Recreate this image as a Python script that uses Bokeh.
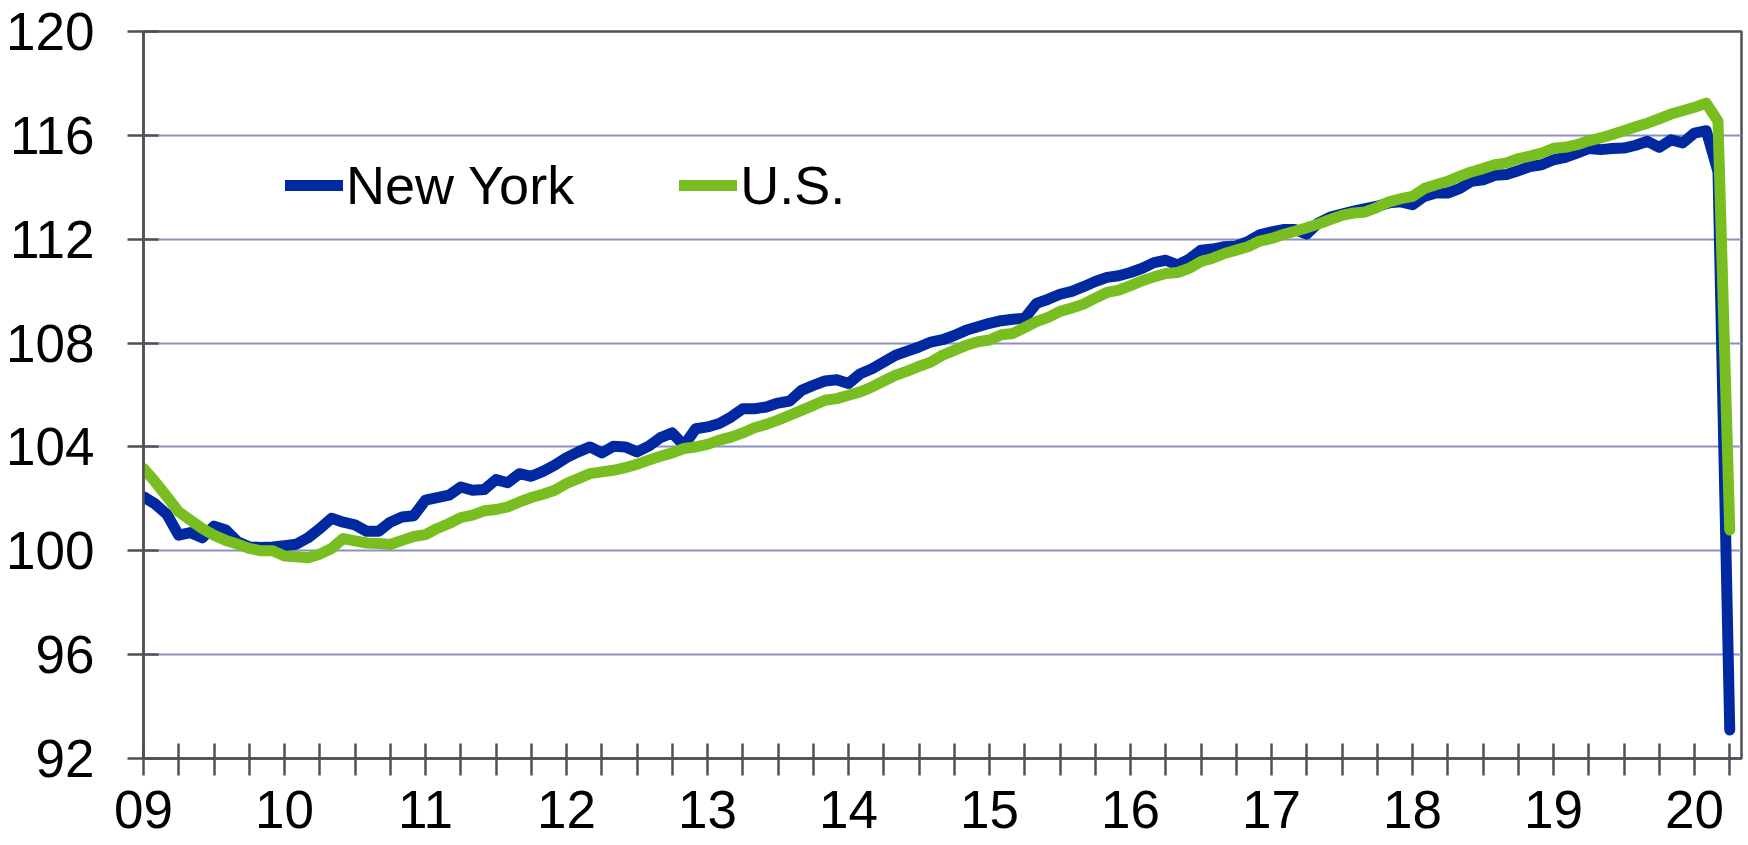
from bokeh.plotting import figure
from bokeh.models import FixedTicker, Range1d, Legend, LegendItem
from bokeh.embed import file_html
from bokeh.resources import INLINE

# Monthly index, Jan 2009 .. Apr 2020
year_labels = ["09", "10", "11", "12", "13", "14", "15", "16", "17", "18", "19", "20"]

new_york = [
    102.08, 101.8, 101.4, 100.6, 100.7, 100.5, 100.95, 100.8, 100.35, 100.15, 100.13, 100.15,
    100.2, 100.25, 100.5, 100.85, 101.25, 101.1, 101.0, 100.75, 100.75, 101.1, 101.3, 101.35,
    101.95, 102.05, 102.14, 102.46, 102.33, 102.36, 102.74, 102.62, 102.97, 102.87, 103.06, 103.3,
    103.59, 103.81, 104.0, 103.77, 104.03, 104.0, 103.81, 104.03, 104.36, 104.54, 104.06, 104.7,
    104.77, 104.9, 105.15, 105.47, 105.47, 105.54, 105.69, 105.77, 106.18, 106.37, 106.54, 106.59,
    106.44, 106.82, 107.01, 107.27, 107.53, 107.69, 107.85, 108.04, 108.13, 108.29, 108.49, 108.63,
    108.76, 108.86, 108.92, 108.96, 109.53, 109.69, 109.88, 109.99, 110.17, 110.37, 110.53, 110.59,
    110.72, 110.88, 111.1, 111.19, 111.01, 111.23, 111.58, 111.62, 111.71, 111.74, 111.91, 112.17,
    112.28, 112.37, 112.37, 112.2, 112.63, 112.85, 112.97, 113.08, 113.18, 113.27, 113.4, 113.44,
    113.33, 113.65, 113.78, 113.78, 113.95, 114.23, 114.29, 114.46, 114.49, 114.64, 114.8, 114.87,
    115.06, 115.15, 115.32, 115.49, 115.45, 115.49, 115.51, 115.62, 115.77, 115.54, 115.83, 115.71,
    116.09, 116.18, 114.6, 93.1,
]

us = [
    103.17, 102.65, 102.08, 101.5, 101.18, 100.86, 100.6, 100.4, 100.26, 100.09, 100.0, 100.0,
    99.8, 99.77, 99.73, 99.87, 100.09, 100.47, 100.38, 100.3, 100.28, 100.24, 100.4, 100.55,
    100.62, 100.86, 101.05, 101.28, 101.37, 101.54, 101.59, 101.69, 101.88, 102.05, 102.18, 102.33,
    102.59, 102.78, 102.97, 103.04, 103.1, 103.2, 103.33, 103.49, 103.64, 103.77, 103.94, 104.0,
    104.1, 104.26, 104.38, 104.54, 104.74, 104.87, 105.03, 105.22, 105.41, 105.6, 105.8, 105.86,
    105.99, 106.12, 106.31, 106.54, 106.76, 106.92, 107.1, 107.27, 107.53, 107.72, 107.91, 108.05,
    108.12, 108.32, 108.37, 108.6, 108.83, 108.99, 109.22, 109.35, 109.5, 109.73, 109.95, 110.04,
    110.21, 110.4, 110.55, 110.68, 110.72, 110.88, 111.14, 111.27, 111.45, 111.58, 111.71, 111.93,
    112.03, 112.18, 112.31, 112.44, 112.59, 112.76, 112.92, 113.01, 113.05, 113.23, 113.44, 113.56,
    113.65, 113.95, 114.1, 114.23, 114.42, 114.59, 114.72, 114.87, 114.94, 115.1, 115.2, 115.32,
    115.5, 115.54, 115.64, 115.79, 115.9, 116.03, 116.18, 116.33, 116.47, 116.64, 116.82, 116.95,
    117.08, 117.24, 116.54, 100.8,
]

y_ticks = [92, 96, 100, 104, 108, 112, 116, 120]

months = list(range(len(new_york)))

AXIS = "#4d5257"
GRID = "#8c90c2"
BLUE = "#0028a0"
GREEN = "#78be20"
FONT = "Liberation Sans"

p = figure(width=1747, height=844, output_backend="svg", toolbar_location=None,
           x_range=Range1d(0, 136), y_range=Range1d(92, 120),
           min_border_left=143, min_border_right=6, min_border_top=31, min_border_bottom=86)
p.background_fill_color = "white"
p.border_fill_color = "white"
p.outline_line_color = AXIS
p.outline_line_width = 2.5

# y axis
p.yaxis.ticker = FixedTicker(ticks=y_ticks)
p.yaxis.axis_line_color = AXIS
p.yaxis.axis_line_width = 2.5
p.yaxis.major_tick_line_color = AXIS
p.yaxis.major_tick_line_width = 2.5
p.yaxis.major_tick_in = 15
p.yaxis.major_tick_out = 16
p.yaxis.minor_tick_line_color = None
p.yaxis.major_label_text_font = FONT
p.yaxis.major_label_text_font_size = "53px"
p.yaxis.major_label_text_color = "black"
p.yaxis.major_label_standoff = 33

# x axis: quarterly ticks, labels at each January
x_ticks = list(range(0, 136, 3))
p.xaxis.ticker = FixedTicker(ticks=x_ticks)
overrides = {}
for t in x_ticks:
    overrides[t] = year_labels[t // 12] if t % 12 == 0 else ""
p.xaxis.major_label_overrides = overrides
p.xaxis.axis_line_color = AXIS
p.xaxis.axis_line_width = 2.5
p.xaxis.major_tick_line_color = AXIS
p.xaxis.major_tick_line_width = 2.5
p.xaxis.major_tick_in = 15
p.xaxis.major_tick_out = 17
p.xaxis.minor_tick_line_color = None
p.xaxis.major_label_text_font = FONT
p.xaxis.major_label_text_font_size = "53px"
p.xaxis.major_label_text_color = "black"
p.xaxis.major_label_standoff = 15

p.xgrid.grid_line_color = None
p.ygrid.grid_line_color = GRID
p.ygrid.grid_line_width = 2

r_ny = p.line(months, new_york, line_color=BLUE, line_width=11, line_join="round", line_cap="round")
r_us = p.line(months, us, line_color=GREEN, line_width=11, line_join="round", line_cap="round")

legend = Legend(items=[LegendItem(label="New York", renderers=[r_ny]),
                       LegendItem(label="U.S.", renderers=[r_us])],
                orientation="horizontal", location=(142, 542))
legend.label_text_font = FONT
legend.label_text_font_size = "54px"
legend.label_text_color = "black"
legend.glyph_width = 58
legend.glyph_height = 54
legend.label_height = 54
legend.label_standoff = 3
legend.spacing = 105
legend.padding = 0
legend.margin = 0
legend.border_line_color = None
legend.background_fill_alpha = 0
p.add_layout(legend)

open("out.html", "w").write(file_html(p, INLINE))
